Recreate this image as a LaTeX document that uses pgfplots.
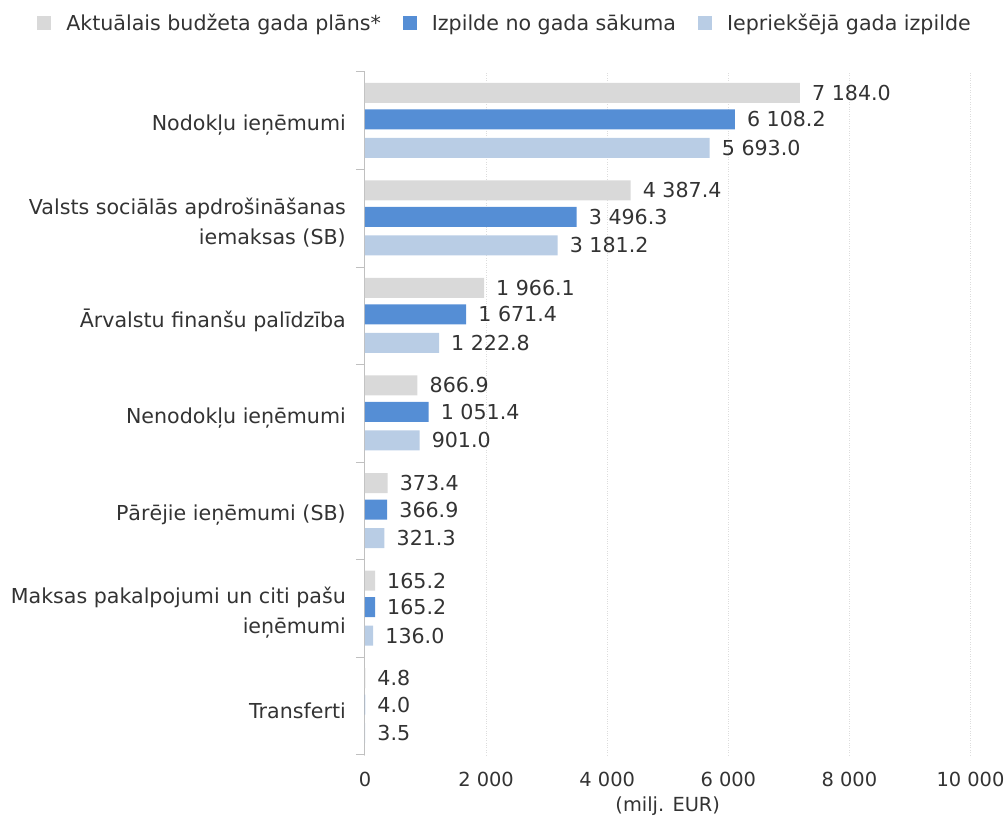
\documentclass[border=0pt]{standalone}
\usepackage{pgfplots}
\pgfplotsset{compat=1.18}
\usepackage{fontspec}
\setmainfont{DejaVu Sans}
\definecolor{cgray}{HTML}{D9D9D9}
\definecolor{cblue}{HTML}{558ED5}
\definecolor{clight}{HTML}{B9CDE5}
\definecolor{ctext}{HTML}{333333}
\definecolor{caxis}{HTML}{C0C0C0}
\definecolor{cgrid}{HTML}{DDDDDD}
\pgfplotsset{sqlegend/.style={legend image code/.code={\fill[##1,draw=none] (0pt,-7pt) rectangle (14pt,7pt);}}}
\begin{document}
\begin{tikzpicture}
\begin{axis}[
  at={(365pt,64pt)}, anchor=south west,
  scale only axis, width=605.5pt, height=683pt,
  xmin=0, xmax=10000, ymin=-0.5, ymax=6.5,
  axis lines*=left,
  x axis line style={draw=none},
  y axis line style={draw=caxis, line width=1pt, -},
  scaled x ticks=false,
  xtick={0,2000,4000,6000,8000,10000},
  xticklabels={0,2 000,4 000,6 000,8 000,10 000},
  xtick style={draw=none},
  xticklabel style={anchor=base, inner sep=0pt, yshift=-23pt, text=ctext, font=\fontsize{19.4}{23}\selectfont},
  xmajorgrids, grid style={cgrid, dotted, line width=1pt},
  ytick={-0.5,0.5,1.5,2.5,3.5,4.5,5.5,6.5}, yticklabels={},
  ytick style={draw=caxis, line width=1pt},
  tick align=outside, major tick length=9pt,
  extra y ticks={0,1,2,3,4,5,6},
  extra y tick labels={Transferti, {Maksas pakalpojumi un citi pašu\\ieņēmumi}, Pārējie ieņēmumi (SB), Nenodokļu ieņēmumi, Ārvalstu finanšu palīdzība, {Valsts sociālās apdrošināšanas\\iemaksas (SB)}, Nodokļu ieņēmumi},
  extra y tick style={major tick length=0pt, tick style={draw=none}},
  yticklabel style={align=right, inner sep=0pt, xshift=-19pt, yshift=-4.5pt, text=ctext, font=\fontsize{20.6}{30}\selectfont},
  xlabel={(milj. EUR)},
  xlabel style={at={(axis description cs:0.5,0)}, anchor=base, inner sep=0pt, yshift=-57pt, text=ctext, font=\fontsize{19.4}{23}\selectfont},
  xbar, bar width=20pt,
  nodes near coords, point meta=explicit symbolic,
  nodes near coords style={anchor=west, inner sep=0pt, xshift=12pt, text=ctext, font=\fontsize{20.6}{24}\selectfont},
  legend columns=3,
  legend style={at={(0.2296,1.0717)}, anchor=center, draw=none, fill=none,
    font=\fontsize{20.6}{24}\selectfont, text=ctext, nodes={inner sep=0pt},
    /tikz/every odd column/.append style={column sep=15pt},
    /tikz/every even column/.append style={column sep=22pt}},
]
\addplot[xbar, bar shift=28pt, fill=cgray, draw=none, sqlegend] coordinates {
  (7184.0,6) [7 184.0]
  (4387.4,5) [4 387.4]
  (1966.1,4) [1 966.1]
  (866.9,3) [866.9]
  (373.4,2) [373.4]
  (165.2,1) [165.2]
  (4.8,0) [4.8]
};
\addlegendentry{Aktuālais budžeta gada plāns*}
\addplot[xbar, bar shift=1.5pt, fill=cblue, draw=none, sqlegend] coordinates {
  (6108.2,6) [6 108.2]
  (3496.3,5) [3 496.3]
  (1671.4,4) [1 671.4]
  (1051.4,3) [1 051.4]
  (366.9,2) [366.9]
  (165.2,1) [165.2]
  (4.0,0) [4.0]
};
\addlegendentry{Izpilde no gada sākuma}
\addplot[xbar, bar shift=-27pt, fill=clight, draw=none, sqlegend] coordinates {
  (5693.0,6) [5 693.0]
  (3181.2,5) [3 181.2]
  (1222.8,4) [1 222.8]
  (901.0,3) [901.0]
  (321.3,2) [321.3]
  (136.0,1) [136.0]
  (3.5,0) [3.5]
};
\addlegendentry{Iepriekšējā gada izpilde}
\end{axis}
\pgfresetboundingbox
\path[use as bounding box] (0pt,0pt) rectangle (1005pt,819pt);
\end{tikzpicture}
\end{document}
